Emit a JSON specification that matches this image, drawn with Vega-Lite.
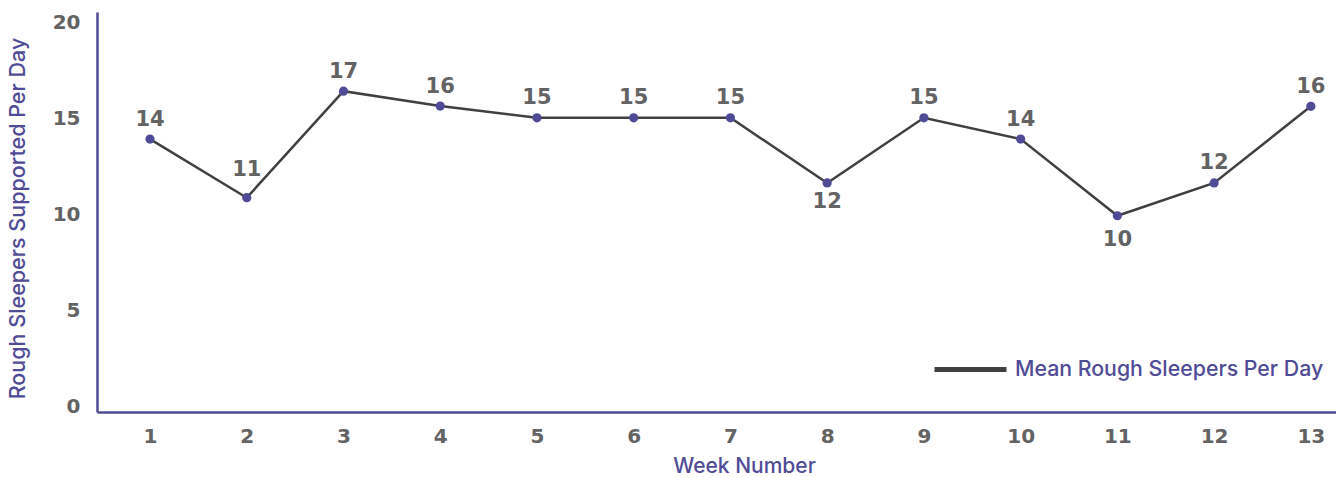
{
  "$schema": "https://vega.github.io/schema/vega-lite/v6.json",
  "autosize": {"type": "none"},
  "width": 1239,
  "height": 400,
  "padding": {"left": 97, "top": 12, "right": 0, "bottom": 65},
  "background": "white",
  "config": {
    "view": {"stroke": null},
    "font": "Inter"
  },
  "data": {
    "values": [
      {"week": 1, "mean": 14.24},
      {"week": 2, "mean": 11.18},
      {"week": 3, "mean": 16.74},
      {"week": 4, "mean": 15.96},
      {"week": 5, "mean": 15.35},
      {"week": 6, "mean": 15.35},
      {"week": 7, "mean": 15.35},
      {"week": 8, "mean": 11.95},
      {"week": 9, "mean": 15.35},
      {"week": 10, "mean": 14.24},
      {"week": 11, "mean": 10.24},
      {"week": 12, "mean": 11.95},
      {"week": 13, "mean": 15.95}
    ]
  },
  "encoding": {
    "x": {
      "field": "week",
      "type": "quantitative",
      "scale": {"domain": [0.452, 13.26], "nice": false, "zero": false},
      "axis": {
        "values": [1, 2, 3, 4, 5, 6, 7, 8, 9, 10, 11, 12, 13],
        "title": "Week Number",
        "grid": false,
        "ticks": false,
        "domainColor": "#4f4b96",
        "domainWidth": 2.5,
        "labelColor": "#636363",
        "labelFont": "DejaVu Sans",
        "labelFontWeight": "bold",
        "labelFontSize": 20,
        "labelPadding": 14,
        "labelFlush": false,
        "titleColor": "#4f4b96",
        "titleFont": "Inter",
        "titleFontWeight": 500,
        "titleFontSize": 21,
        "titleX": 647,
        "titleY": 54,
        "titleBaseline": "middle",
        "titleAlign": "center"
      }
    },
    "y": {
      "field": "mean",
      "type": "quantitative",
      "scale": {"domain": [0, 20.87], "nice": false},
      "axis": {
        "values": [0, 5, 10, 15, 20],
        "title": "Rough Sleepers Supported Per Day",
        "grid": false,
        "ticks": false,
        "domainColor": "#4f4b96",
        "domainWidth": 2.5,
        "labelColor": "#636363",
        "labelFont": "DejaVu Sans",
        "labelFontWeight": "bold",
        "labelFontSize": 20,
        "labelPadding": 17,
        "labelOffset": -6,
        "titleColor": "#4f4b96",
        "titleFont": "Inter",
        "titleFontWeight": 500,
        "titleFontSize": 21.5,
        "titleAngle": 270,
        "titleX": -79,
        "titleY": 206,
        "titleAlign": "center",
        "titleBaseline": "middle"
      }
    }
  },
  "layer": [
    {
      "mark": {"type": "line", "strokeWidth": 2.5},
      "encoding": {
        "color": {
          "datum": "Mean Rough Sleepers Per Day",
          "type": "nominal",
          "scale": {"range": ["#404040"]},
          "legend": {
            "title": null,
            "orient": "none",
            "legendX": 835,
            "legendY": 319,
            "symbolType": "stroke",
            "symbolSize": 5184,
            "symbolStrokeWidth": 5,
            "symbolStrokeColor": "#5f5f5f",
            "labelColor": "#4f4b96",
            "labelFont": "Inter",
            "labelFontWeight": 500,
            "labelFontSize": 21.3,
            "labelOffset": 6,
            "labelLimit": 500
          }
        }
      }
    },
    {
      "mark": {"type": "point", "filled": true, "size": 85, "color": "#4f4b96", "opacity": 1}
    },
    {
      "transform": [{"filter": "datum.week != 2 && datum.week != 8 && datum.week != 11"}],
      "mark": {"type": "text", "dy": -19.5, "color": "#636363", "font": "DejaVu Sans", "fontWeight": "bold", "fontSize": 21},
      "encoding": {"text": {"field": "mean", "type": "quantitative", "format": ".0f"}}
    },
    {
      "transform": [{"filter": "datum.week == 2"}],
      "mark": {"type": "text", "dy": -28, "color": "#636363", "font": "DejaVu Sans", "fontWeight": "bold", "fontSize": 21},
      "encoding": {"text": {"field": "mean", "type": "quantitative", "format": ".0f"}}
    },
    {
      "transform": [{"filter": "datum.week == 8"}],
      "mark": {"type": "text", "dy": 19, "color": "#636363", "font": "DejaVu Sans", "fontWeight": "bold", "fontSize": 21},
      "encoding": {"text": {"field": "mean", "type": "quantitative", "format": ".0f"}}
    },
    {
      "transform": [{"filter": "datum.week == 11"}],
      "mark": {"type": "text", "dy": 24, "color": "#636363", "font": "DejaVu Sans", "fontWeight": "bold", "fontSize": 21},
      "encoding": {"text": {"field": "mean", "type": "quantitative", "format": ".0f"}}
    }
  ]
}
